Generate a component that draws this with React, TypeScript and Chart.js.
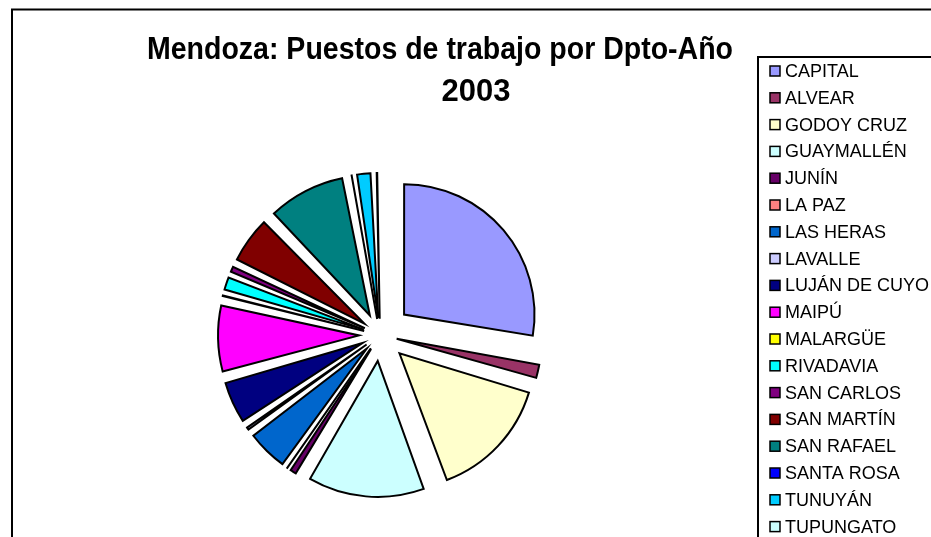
import React, { useEffect, useRef } from "react";
import { Chart, registerables } from "chart.js";

Chart.register(...registerables);

const categories = [
  "CAPITAL",
  "ALVEAR",
  "GODOY CRUZ",
  "GUAYMALLÉN",
  "JUNÍN",
  "LA PAZ",
  "LAS HERAS",
  "LAVALLE",
  "LUJÁN DE CUYO",
  "MAIPÚ",
  "MALARGÜE",
  "RIVADAVIA",
  "SAN CARLOS",
  "SAN MARTÍN",
  "SAN RAFAEL",
  "SANTA ROSA",
  "TUNUYÁN",
  "TUPUNGATO",
];

// share of jobs (%) per department
const puestosPct = [
  27.6, 2.0, 14.8, 14.0, 1.2, 0.2, 5.0, 0.8, 5.1, 7.9, 0.6, 1.9, 1.1, 5.6, 9.2,
  0.4, 2.0, 0.6,
];

const sliceColors = [
  "#9999FF",
  "#993366",
  "#FFFFCC",
  "#CCFFFF",
  "#660066",
  "#FF8080",
  "#0066CC",
  "#CCCCFF",
  "#000080",
  "#FF00FF",
  "#FFFF00",
  "#00FFFF",
  "#800080",
  "#800000",
  "#008080",
  "#0000FF",
  "#00CCFF",
  "#CCFFFF",
];

const titleLines = ["Mendoza: Puestos de trabajo por Dpto-Año", "2003"];

const FONT = "'Liberation Sans', Arial, sans-serif";
const EXPLODE = 32; // uniform radial offset (px) of every slice

const decorPlugin = {
  id: "decor",
  afterDraw(chart: any) {
    const ctx = chart.ctx as CanvasRenderingContext2D;
    ctx.save();
    // outer frame
    ctx.strokeStyle = "#000";
    ctx.lineWidth = 2;
    ctx.beginPath();
    ctx.moveTo(12, 537);
    ctx.lineTo(12, 9.5);
    ctx.lineTo(931, 9.5);
    ctx.stroke();

    // title
    ctx.fillStyle = "#000";
    ctx.textAlign = "center";
    ctx.textBaseline = "alphabetic";
    ctx.font = `bold 31px ${FONT}`;
    const w1 = ctx.measureText(titleLines[0]).width;
    const sx = Math.min(1, 586 / w1);
    ctx.save();
    ctx.translate(440, 59);
    ctx.scale(sx, 1);
    ctx.fillText(titleLines[0], 0, 0);
    ctx.restore();
    ctx.fillText(titleLines[1], 476, 101);

    // legend box
    ctx.fillStyle = "#fff";
    ctx.fillRect(758, 57, 200, 500);
    ctx.strokeStyle = "#000";
    ctx.lineWidth = 2;
    ctx.strokeRect(758, 57, 200, 500);

    const labels = chart.data.labels as string[];
    const bg = chart.data.datasets[0].backgroundColor as string[];
    ctx.font = `18px ${FONT}`;
    ctx.textAlign = "left";
    ctx.textBaseline = "middle";
    for (let i = 0; i < labels.length; i++) {
      const cy = 71 + i * 26.8;
      ctx.fillStyle = bg[i];
      ctx.fillRect(770, cy - 5, 10, 10);
      ctx.lineWidth = 1.5;
      ctx.strokeStyle = "#000";
      ctx.strokeRect(770, cy - 5, 10, 10);
      ctx.fillStyle = "#000";
      ctx.fillText(labels[i], 785, cy + 1);
    }
    ctx.restore();
  },
};

export default function App() {
  const ref = useRef<HTMLCanvasElement | null>(null);

  useEffect(() => {
    if (!ref.current) return;
    const chart = new Chart(ref.current, {
      type: "pie",
      data: {
        labels: categories,
        datasets: [
          {
            data: puestosPct,
            backgroundColor: sliceColors,
            borderColor: "#000",
            borderWidth: 2,
            borderJoinStyle: "miter",
            offset: (c: any) => {
              if (c.dataIndex === undefined) return 4 * EXPLODE;
              const data = c.dataset.data as number[];
              const total = data.reduce((a, b) => a + b, 0);
              const circ = (2 * Math.PI * data[c.dataIndex]) / total;
              return (4 * EXPLODE) / (2 - Math.sin(Math.min(Math.PI, circ)));
            },
          } as any,
        ],
      },
      options: {
        responsive: false,
        animation: false,
        radius: 130,
        layout: { padding: { left: 0, right: 171, top: 133, bottom: 0 } },
        plugins: {
          legend: { display: false },
          title: { display: false },
          tooltip: { enabled: false },
        },
        events: [],
      } as any,
      plugins: [decorPlugin],
    });
    return () => chart.destroy();
  }, []);

  return (
    <div
      style={{
        position: "fixed",
        left: 0,
        top: 0,
        width: 931,
        height: 537,
        background: "#fff",
        overflow: "hidden",
      }}
    >
      <canvas ref={ref} width={931} height={537} style={{ display: "block" }} />
    </div>
  );
}
